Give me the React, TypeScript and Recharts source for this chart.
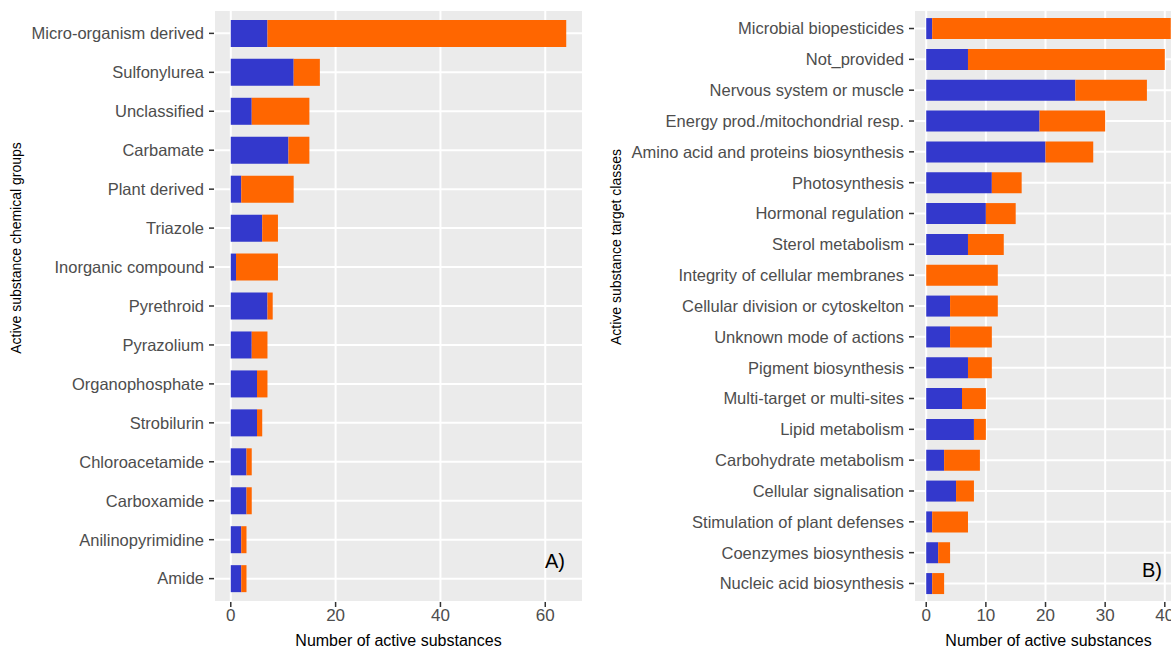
import { Bar, BarChart, CartesianGrid, XAxis, YAxis } from "recharts";

const BLUE = "#3338CC";
const ORANGE = "#FF6600";

const groupNames = [
  "Micro-organism derived",
  "Sulfonylurea",
  "Unclassified",
  "Carbamate",
  "Plant derived",
  "Triazole",
  "Inorganic compound",
  "Pyrethroid",
  "Pyrazolium",
  "Organophosphate",
  "Strobilurin",
  "Chloroacetamide",
  "Carboxamide",
  "Anilinopyrimidine",
  "Amide",
];
const groupBlue = [7, 12, 4, 11, 2, 6, 1, 7, 4, 5, 5, 3, 3, 2, 2];
const groupOrange = [57, 5, 11, 4, 10, 3, 8, 1, 3, 2, 1, 1, 1, 1, 1];
const groupTicks = [0, 20, 40, 60];
const groupMinorTicks = [10, 30, 50];

const targetNames = [
  "Microbial biopesticides",
  "Not_provided",
  "Nervous system or muscle",
  "Energy prod./mitochondrial resp.",
  "Amino acid and proteins biosynthesis",
  "Photosynthesis",
  "Hormonal regulation",
  "Sterol metabolism",
  "Integrity of cellular membranes",
  "Cellular division or cytoskelton",
  "Unknown mode of actions",
  "Pigment biosynthesis",
  "Multi-target or multi-sites",
  "Lipid metabolism",
  "Carbohydrate metabolism",
  "Cellular signalisation",
  "Stimulation of plant defenses",
  "Coenzymes biosynthesis",
  "Nucleic acid biosynthesis",
];
const targetBlue = [1, 7, 25, 19, 20, 11, 10, 7, 0, 4, 4, 7, 6, 8, 3, 5, 1, 2, 1];
const targetOrange = [40, 33, 12, 11, 8, 5, 5, 6, 12, 8, 7, 4, 4, 2, 6, 3, 6, 2, 2];
const targetTicks = [0, 10, 20, 30, 40];
const targetMinorTicks = [5, 15, 25, 35];

interface PanelProps {
  names: string[];
  blue: number[];
  orange: number[];
  majorTicks: number[];
  minorTicks: number[];
  width: number;
  axisWidth: number;
  barSize: number;
  bandPadding: number;
}

function Panel({
  names,
  blue,
  orange,
  majorTicks,
  minorTicks,
  width,
  axisWidth,
  barSize,
  bandPadding,
}: PanelProps) {
  const data = names.map((name, i) => ({
    name,
    blue: blue[i],
    orange: orange[i],
  }));
  // ggplot-style 5% expansion on both sides
  const max = Math.max(...data.map((d) => d.blue + d.orange));
  const domain: [number, number] = [-0.05 * max, 1.05 * max];

  return (
    <BarChart
      width={width}
      height={648}
      data={data}
      layout="vertical"
      barSize={barSize}
      margin={{ top: 10, right: 0, bottom: 0, left: 0 }}
    >
      <CartesianGrid
        xAxisId="minor"
        horizontal={false}
        fill="#EBEBEB"
        fillOpacity={1}
        stroke="#FFFFFF"
        strokeWidth={1}
      />
      <CartesianGrid stroke="#FFFFFF" strokeWidth={2} />
      <XAxis
        xAxisId="minor"
        type="number"
        domain={domain}
        ticks={minorTicks}
        hide
      />
      <XAxis
        type="number"
        domain={domain}
        ticks={majorTicks}
        height={46}
        axisLine={false}
        tickSize={5}
        tickLine={{ stroke: "#333333", strokeWidth: 1.5 }}
        tick={{ fill: "#4D4D4D", fontSize: 17 }}
        label={{
          value: "Number of active substances",
          position: "insideBottom",
          offset: 2,
          fill: "#000000",
          fontSize: 16,
        }}
      />
      <YAxis
        type="category"
        dataKey="name"
        width={axisWidth}
        interval={0}
        padding={{ top: bandPadding, bottom: bandPadding }}
        axisLine={false}
        tickSize={5}
        tickMargin={5}
        tickLine={{ stroke: "#333333", strokeWidth: 1.5 }}
        tick={{ fill: "#4D4D4D", fontSize: 16.5 }}
      />
      <Bar dataKey="blue" stackId="a" fill={BLUE} isAnimationActive={false} />
      <Bar dataKey="orange" stackId="a" fill={ORANGE} isAnimationActive={false} />
    </BarChart>
  );
}

const yTitle: React.CSSProperties = {
  position: "absolute",
  transform: "translate(-50%, -50%) rotate(-90deg)",
  whiteSpace: "nowrap",
  fontSize: 14,
  color: "#000",
};

const panelTag: React.CSSProperties = {
  position: "absolute",
  fontSize: 20,
  color: "#000",
  lineHeight: 1,
};

export default function App() {
  return (
    <div
      style={{
        position: "absolute",
        left: 0,
        top: 0,
        width: 1171,
        height: 648,
        overflow: "hidden",
        background: "#FFFFFF",
        fontFamily: "'Liberation Sans', Arial, sans-serif",
      }}
    >
      <div style={{ position: "absolute", left: 0, top: 0 }}>
        <Panel
          names={groupNames}
          blue={groupBlue}
          orange={groupOrange}
          majorTicks={groupTicks}
          minorTicks={groupMinorTicks}
          width={583}
          axisWidth={214}
          barSize={27}
          bandPadding={3.9}
        />
      </div>
      <div style={{ position: "absolute", left: 600, top: 0 }}>
        <Panel
          names={targetNames}
          blue={targetBlue}
          orange={targetOrange}
          majorTicks={targetTicks}
          minorTicks={targetMinorTicks}
          width={583}
          axisWidth={314}
          barSize={21}
          bandPadding={3.1}
        />
      </div>
      <div style={{ ...yTitle, left: 16, top: 248 }}>
        Active substance chemical groups
      </div>
      <div style={{ ...yTitle, left: 616, top: 247 }}>
        Active substance target classes
      </div>
      <div style={{ ...panelTag, left: 545, top: 551 }}>A)</div>
      <div style={{ ...panelTag, left: 1142, top: 560 }}>B)</div>
    </div>
  );
}
